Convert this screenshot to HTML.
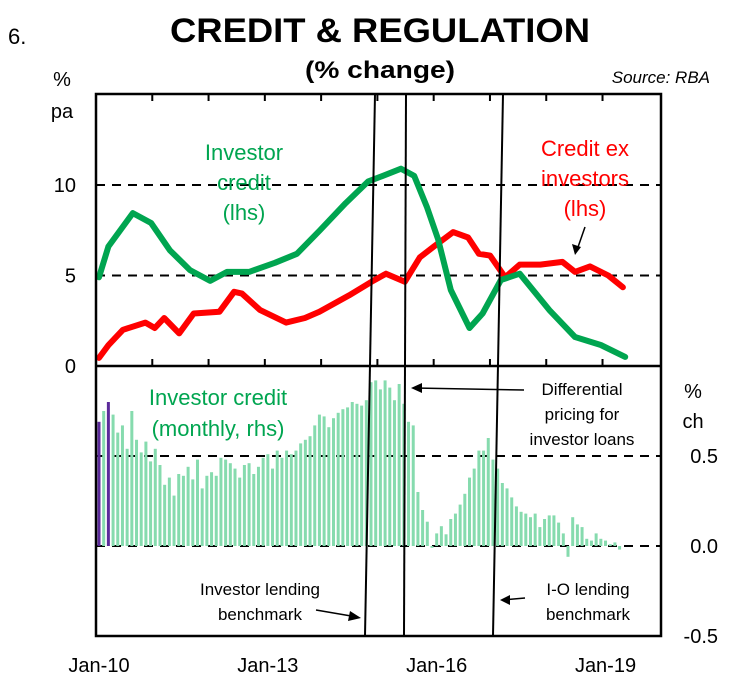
<!DOCTYPE html>
<html><head><meta charset="utf-8"><style>
body{margin:0;background:#fff;}
svg{display:block;font-family:"Liberation Sans",Arial,sans-serif;}
</style></head><body>
<svg id="chart" width="736" height="691" viewBox="0 0 736 691" xmlns="http://www.w3.org/2000/svg">
<text x="8" y="44" font-size="22">6.</text>
<text x="380" y="42" font-size="34" font-weight="bold" text-anchor="middle" textLength="420" lengthAdjust="spacingAndGlyphs">CREDIT &amp; REGULATION</text>
<text x="380" y="78" font-size="24" font-weight="bold" text-anchor="middle" textLength="150" lengthAdjust="spacingAndGlyphs">(% change)</text>
<text x="710" y="83" font-size="17" font-style="italic" text-anchor="end">Source: RBA</text>
<text x="62" y="86" font-size="20" text-anchor="middle">%</text>
<text x="62" y="118" font-size="20" text-anchor="middle">pa</text>
<text x="693" y="398" font-size="20" text-anchor="middle">%</text>
<text x="693" y="428" font-size="20" text-anchor="middle">ch</text>
<g id="grid"></g>
<g id="bars"></g>
<g id="lines"></g>
<g id="frame"></g>
<g id="annot">
<text fill="#00a550" font-size="22" text-anchor="middle"><tspan x="244" y="160">Investor</tspan><tspan x="244" y="190">credit</tspan><tspan x="244" y="220">(lhs)</tspan></text>
<text fill="#ff0000" font-size="22" text-anchor="middle"><tspan x="585" y="156">Credit ex</tspan><tspan x="585" y="186">investors</tspan><tspan x="585" y="216">(lhs)</tspan></text>
<text fill="#00a550" font-size="22" text-anchor="middle"><tspan x="218" y="405">Investor credit</tspan><tspan x="218" y="436">(monthly, rhs)</tspan></text>
<text font-size="17" text-anchor="middle"><tspan x="582" y="395">Differential</tspan><tspan x="582" y="420">pricing for</tspan><tspan x="582" y="445">investor loans</tspan></text>
<text font-size="17" text-anchor="middle"><tspan x="260" y="595">Investor lending</tspan><tspan x="260" y="620">benchmark</tspan></text>
<text font-size="17" text-anchor="middle"><tspan x="588" y="595">I-O lending</tspan><tspan x="588" y="620">benchmark</tspan></text>
<g stroke="#000" stroke-width="1.5" fill="none">
<line x1="524" y1="390" x2="414" y2="388"/><line x1="316" y1="610" x2="357" y2="617"/><line x1="525" y1="598" x2="503" y2="600"/><line x1="585" y1="227" x2="577" y2="250"/>
</g>
<g fill="#000"><polygon points="411,388 422,383 422,393"/><polygon points="361,618 350,611 348,621"/><polygon points="500,600 510,595 510,605"/><polygon points="575,255 572,244 581,247"/></g>
</g>
</svg>
<script>
const greenMonths=[0,2.0,7.2,11.1,15.1,19.4,23.7,27.3,32.0,37.5,42.2,47.1,52.6,57.4,60.5,64.4,67.2,69.9,72.3,75.0,79.0,81.8,85.7,89.7,96.0,101.5,107.0,112.2];
const investorCredit=[4.9,6.6,8.45,7.9,6.4,5.3,4.7,5.2,5.2,5.7,6.2,7.5,9.0,10.2,10.5,10.9,10.5,8.8,7.0,4.2,2.1,2.9,4.75,5.1,3.1,1.6,1.16,0.5];
const redMonths=[0,2.0,5.1,9.9,11.9,13.9,17.1,20.2,25.7,28.8,30.5,34.3,39.9,43.9,47.0,53.3,58.1,61.2,65.2,68.4,71.4,75.5,78.7,81.0,83.4,86.6,89.7,94.1,98.8,101.5,104.7,108.6,111.7];
const creditExInvestors=[0.45,1.15,2.0,2.4,2.1,2.65,1.8,2.9,3.0,4.1,4.0,3.1,2.4,2.65,3.0,3.9,4.65,5.1,4.65,6.0,6.6,7.4,7.1,6.2,6.1,4.9,5.6,5.6,5.75,5.2,5.5,5.0,4.35];
const monthlyBars=[0.69,0.75,0.80,0.73,0.63,0.67,0.54,0.75,0.59,0.52,0.58,0.47,0.54,0.45,0.34,0.38,0.28,0.40,0.39,0.44,0.37,0.48,0.32,0.39,0.41,0.39,0.49,0.48,0.46,0.43,0.38,0.45,0.46,0.40,0.44,0.49,0.51,0.43,0.53,0.49,0.53,0.51,0.53,0.57,0.59,0.61,0.67,0.73,0.72,0.66,0.71,0.74,0.76,0.77,0.80,0.79,0.78,0.81,0.91,0.92,0.87,0.92,0.88,0.81,0.90,0.79,0.69,0.67,0.30,0.20,0.135,-0.01,0.07,0.11,0.065,0.15,0.18,0.23,0.29,0.38,0.43,0.53,0.53,0.60,0.48,0.43,0.35,0.32,0.27,0.22,0.19,0.18,0.16,0.18,0.105,0.15,0.17,0.17,0.13,0.07,-0.06,0.16,0.12,0.105,0.04,0.03,0.07,0.04,0.03,0.01,0.02,-0.02];
const purpleBars=[0,2];
const leftTicks=[0,5,10];
const rightTicks=[-0.5,0.0,0.5];
const xTickLabels=["Jan-10","Jan-13","Jan-16","Jan-19"];
const xTickMonths=[0,36,72,108];
const policyLines=[[375,94,365,636],[406,94,404,636],[503,94,493,636]];

const NS="http://www.w3.org/2000/svg";
const L=96,R=661,T=94,MID=366,B=636;
const xOf=m=>L+3+m*4.69;
const yL=v=>MID-v*18.1;
const yR=v=>546-v*180;
function mk(tag,attrs,parent){const e=document.createElementNS(NS,tag);for(const k in attrs)e.setAttribute(k,attrs[k]);parent.appendChild(e);return e;}
const svg=document.getElementById('chart');
const grid=document.getElementById('grid'),bars=document.getElementById('bars'),lines=document.getElementById('lines'),frame=document.getElementById('frame');

[5,10].forEach(v=>{const g=mk('line',{x1:L,x2:R,y1:yL(v),y2:yL(v),stroke:'#000','stroke-width':2,'stroke-dasharray':'9,7'},grid);

});
[0,0.5].forEach(v=>{const g=mk('line',{x1:L,x2:R,y1:yR(v),y2:yR(v),stroke:'#000','stroke-width':2,'stroke-dasharray':'9,7'},grid);

});

monthlyBars.forEach((v,i)=>{const x=xOf(i);const y0=yR(0),y1=yR(v);
const purple=purpleBars.includes(i);
const b=mk('rect',{x:x-1.5,y:Math.min(y0,y1),width:3,height:Math.max(1,Math.abs(y1-y0)),fill:purple?'#5b2a9a':'#86dbae'},bars);

});

function path(ms,vals,color,name){const d=ms.map((m,i)=>(i?'L':'M')+xOf(m).toFixed(1)+','+yL(vals[i]).toFixed(1)).join(' ');
const p=mk('path',{d:d,fill:'none',stroke:color,'stroke-width':6,'stroke-linejoin':'round','stroke-linecap':'round'},lines);

}
path(redMonths,creditExInvestors,'#ff0000','credit-ex-investors-line');
path(greenMonths,investorCredit,'#00a550','investor-credit-line');

const fr=mk('rect',{x:L,y:T,width:R-L,height:B-T,fill:'none',stroke:'#000','stroke-width':2.5},frame);


const dv=mk('line',{x1:L,x2:R,y1:MID,y2:MID,stroke:'#000','stroke-width':2.5},frame);


for(let yr=1;yr<10;yr++){const x=xOf(yr*12)-3;
const t1=mk('line',{x1:x,x2:x,y1:MID,y2:MID-7,stroke:'#000','stroke-width':2},frame);


const t2=mk('line',{x1:x,x2:x,y1:T,y2:T+7,stroke:'#000','stroke-width':2},frame);

}
policyLines.forEach(p=>{const l=mk('line',{x1:p[0],y1:p[1],x2:p[2],y2:p[3],stroke:'#000','stroke-width':2},frame);

});
leftTicks.forEach(v=>{const t=mk('text',{x:76,y:yL(v)+7,'font-size':20,'text-anchor':'end'},svg);t.textContent=v;

});
rightTicks.forEach(v=>{const t=mk('text',{x:718,y:yR(v)+7,'font-size':20,'text-anchor':'end'},svg);t.textContent=v.toFixed(1);

});
xTickLabels.forEach((s,i)=>{const t=mk('text',{x:xOf(xTickMonths[i]),y:672,'font-size':20,'text-anchor':'middle'},svg);t.textContent=s;

});
svg.appendChild(document.getElementById('annot'));
</script>
</body></html>
